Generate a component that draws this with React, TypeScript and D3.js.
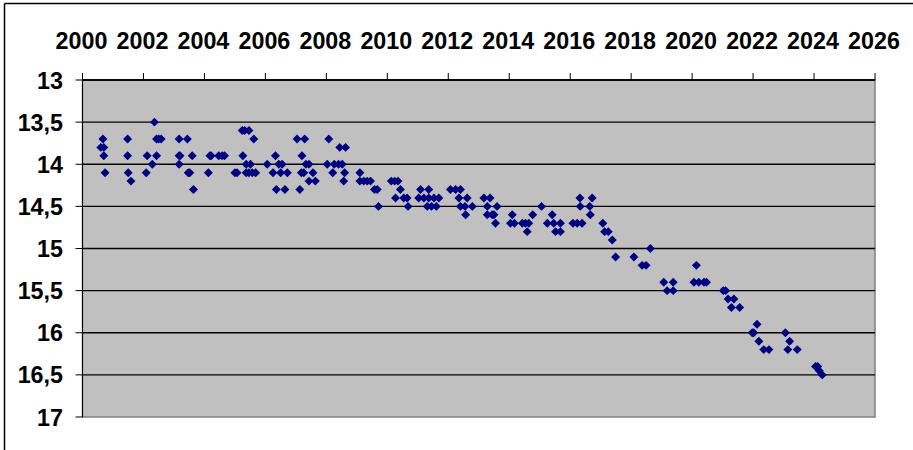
import React from "react";
import * as d3 from "d3";

const years: number[] = [
  2000.6, 2000.67, 2000.7, 2000.7, 2000.74,
  2001.48, 2001.48, 2001.5, 2001.59,
  2002.09, 2002.12, 2002.29, 2002.36, 2002.43, 2002.43, 2002.5, 2002.58,
  2003.17, 2003.17, 2003.17, 2003.2, 2003.44, 2003.47, 2003.52, 2003.6, 2003.64,
  2004.13, 2004.18, 2004.22, 2004.47, 2004.58, 2004.66,
  2005.0, 2005.07, 2005.24, 2005.32, 2005.46, 2005.62, 2005.26, 2005.37, 2005.51, 2005.37, 2005.46, 2005.57, 2005.68,
  2006.06, 2006.25, 2006.33, 2006.36, 2006.44, 2006.55, 2006.5, 2006.64, 2006.72,
  2007.04, 2007.13, 2007.18, 2007.2, 2007.26, 2007.29, 2007.33, 2007.43, 2007.43, 2007.56, 2007.64,
  2008.03, 2008.08, 2008.21, 2008.26, 2008.4, 2008.44, 2008.52, 2008.57, 2008.6, 2008.63,
  2009.1, 2009.1, 2009.23, 2009.34, 2009.45, 2009.58, 2009.67, 2009.71,
  2010.13, 2010.24, 2010.35, 2010.27, 2010.43, 2010.54, 2010.65, 2010.68,
  2011.09, 2011.36, 2011.03, 2011.2, 2011.36, 2011.53, 2011.69, 2011.31, 2011.45, 2011.61,
  2012.07, 2012.24, 2012.4, 2012.35, 2012.62, 2012.4, 2012.55, 2012.79, 2012.57,
  2013.17, 2013.37, 2013.28, 2013.6, 2013.28, 2013.44, 2013.5, 2013.55,
  2014.1, 2014.04, 2014.17, 2014.43, 2014.53, 2014.64, 2014.59, 2014.77,
  2015.06, 2015.25, 2015.41, 2015.46, 2015.68, 2015.52, 2015.68,
  2016.09, 2016.23, 2016.39, 2016.32, 2016.33, 2016.72, 2016.64, 2016.66,
  2017.07, 2017.13, 2017.25, 2017.38, 2017.49,
  2018.09, 2018.36, 2018.49, 2018.63,
  2019.07, 2019.38, 2019.18, 2019.38,
  2020.14, 2020.06, 2020.22, 2020.39, 2020.47,
  2021.02, 2021.1, 2021.18, 2021.37, 2021.29, 2021.56,
  2021.97, 2022.02, 2022.13, 2022.19, 2022.35, 2022.52,
  2023.06, 2023.2, 2023.14, 2023.45,
  2024.05, 2024.12, 2024.17, 2024.27,
];

const values: number[] = [
  13.8, 13.7, 13.8, 13.9, 14.1,
  13.7, 13.9, 14.1, 14.2,
  14.1, 13.9, 14.0, 13.5, 13.7, 13.9, 13.7, 13.7,
  13.7, 13.9, 14.0, 13.9, 13.7, 14.1, 14.1, 13.9, 14.3,
  14.1, 13.9, 13.9, 13.9, 13.9, 13.9,
  14.1, 14.1, 13.6, 13.6, 13.6, 13.7, 13.9, 14.0, 14.0, 14.1, 14.1, 14.1, 14.1,
  14.0, 14.1, 13.9, 14.3, 14.0, 14.0, 14.1, 14.3, 14.1,
  13.7, 14.3, 14.1, 13.9, 14.1, 13.7, 14.0, 14.0, 14.2, 14.1, 14.2,
  14.0, 13.7, 14.1, 14.0, 14.0, 13.8, 14.0, 14.2, 14.1, 13.8,
  14.1, 14.2, 14.2, 14.2, 14.2, 14.3, 14.3, 14.5,
  14.2, 14.2, 14.2, 14.4, 14.3, 14.4, 14.4, 14.5,
  14.3, 14.3, 14.4, 14.4, 14.4, 14.4, 14.4, 14.5, 14.5, 14.5,
  14.3, 14.3, 14.3, 14.4, 14.4, 14.5, 14.5, 14.5, 14.6,
  14.4, 14.4, 14.5, 14.5, 14.6, 14.6, 14.6, 14.7,
  14.6, 14.7, 14.7, 14.7, 14.7, 14.7, 14.8, 14.6,
  14.5, 14.7, 14.6, 14.7, 14.7, 14.8, 14.8,
  14.7, 14.7, 14.7, 14.4, 14.5, 14.4, 14.5, 14.6,
  14.7, 14.8, 14.8, 14.9, 15.1,
  15.1, 15.2, 15.2, 15.0,
  15.4, 15.4, 15.5, 15.5,
  15.2, 15.4, 15.4, 15.4, 15.4,
  15.5, 15.5, 15.6, 15.6, 15.7, 15.7,
  16.0, 16.0, 15.9, 16.1, 16.2, 16.2,
  16.0, 16.1, 16.2, 16.2,
  16.4, 16.4, 16.45, 16.5,
];

const xTicks: number[] = [2000, 2002, 2004, 2006, 2008, 2010, 2012, 2014, 2016, 2018, 2020, 2022, 2024, 2026];
const yTicks: number[] = [13, 13.5, 14, 14.5, 15, 15.5, 16, 16.5, 17];

export default function App() {
  const W = 913, H = 450;
  const left = 82.5, right = 875, top = 80, bottom = 417;
  const x = d3.scaleLinear().domain([2000, 2026]).range([left, right]);
  const y = d3.scaleLinear().domain([13, 17]).range([top, bottom]);
  const diamond = d3.symbol().type(d3.symbolSquare).size(40)() as string;
  const font = "'Liberation Sans', Arial, sans-serif";
  const fmt = (v: number) => String(v).replace(".", ",");

  return (
    <svg width={W} height={H} style={{ position: "absolute", left: 0, top: 0, background: "#fff" }}>
      <rect x={0} y={0} width={W} height={H} fill="#fff" />
      <line x1={4.5} y1={3.5} x2={W} y2={3.5} stroke="#000" strokeWidth={1.5} />
      <line x1={4.5} y1={3.5} x2={4.5} y2={H} stroke="#000" strokeWidth={1.5} />
      <rect x={left} y={top} width={right - left} height={bottom - top} fill="#C0C0C0" stroke="#808080" strokeWidth={1.5} />
      {yTicks.map((t) => (
        <line key={"g" + t} x1={left} x2={right} y1={y(t)} y2={y(t)} stroke="#000" strokeWidth={t === 17 ? 0 : 1.3} />
      ))}
      <line x1={left} x2={left} y1={top} y2={bottom} stroke="#000" strokeWidth={1} />
      {yTicks.map((t) => (
        <g key={"yt" + t}>
          <line x1={left - 7} x2={left} y1={y(t)} y2={y(t)} stroke="#000" strokeWidth={1} />
          <text x={63} y={y(t) + 8.5} textAnchor="end" fontFamily={font} fontWeight="bold" fontSize={23.3} fill="#000">
            {fmt(t)}
          </text>
        </g>
      ))}
      <line x1={left} x2={right} y1={top} y2={top} stroke="#000" strokeWidth={1.5} />
      {xTicks.map((t) => (
        <g key={"xt" + t}>
          <line x1={x(t)} x2={x(t)} y1={top - 7} y2={top} stroke="#000" strokeWidth={1} />
          <text x={x(t) - 1} y={49} textAnchor="middle" fontFamily={font} fontWeight="bold" fontSize={23.3} fill="#000">
            {t}
          </text>
        </g>
      ))}
      {years.map((yr, i) => (
        <path key={"p" + i} d={diamond} transform={`translate(${x(yr)},${y(values[i])}) rotate(45)`} fill="#000080" />
      ))}
    </svg>
  );
}
